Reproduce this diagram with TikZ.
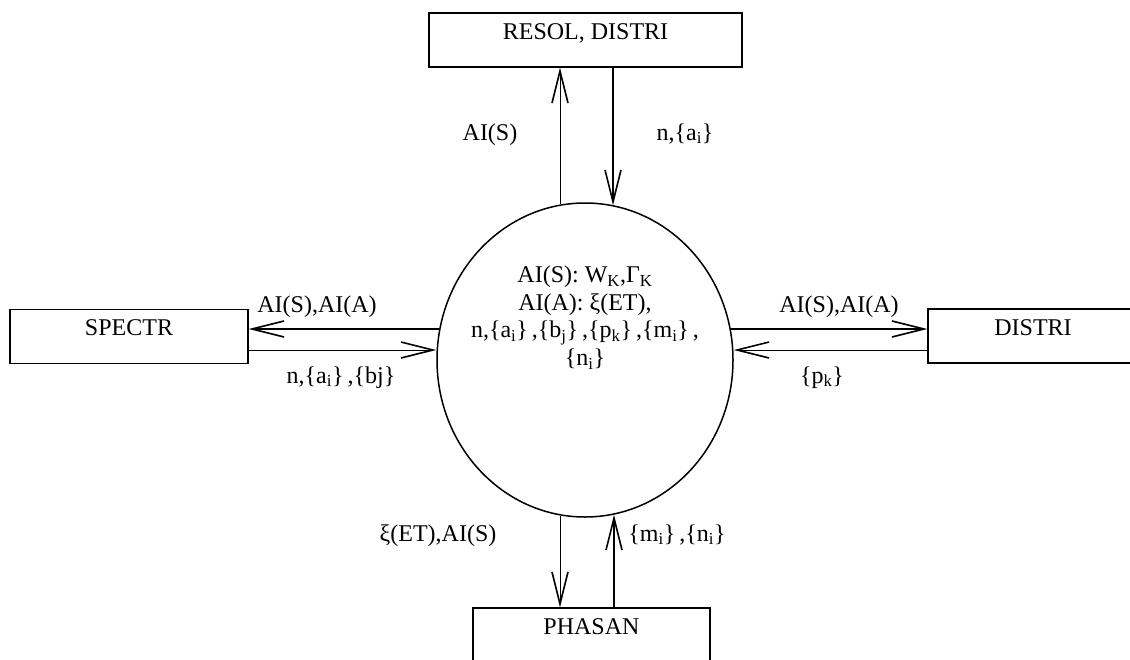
\documentclass[tikz,border=0pt]{standalone}
\usepackage{fontspec}
\setmainfont{Liberation Serif}
\usetikzlibrary{arrows.meta,shapes.geometric}
\newcommand{\sbs}[1]{\textsubscript{#1}}
\begin{document}
\begin{tikzpicture}[x=1pt,y=-1pt,
  txt/.style={font=\fontsize{24}{27.5}\selectfont},
  box/.style={txt,draw,line width=1.4pt,inner sep=0pt,text height=26pt,text depth=28pt},
  lbl/.style={txt,inner sep=0pt,anchor=base},
  tip/.style={-{Straight Barb[length=32pt,width=16pt,line width=1.6pt]}},
  thinarrow/.style={tip,line width=1pt},
  thickarrow/.style={tip,line width=2pt}]
\clip (0,0) rectangle (1130,659);
\node[box,minimum width=313pt] (r) at (585.5,40) {RESOL, DISTRI};
\node[box,minimum width=238pt] (s) at (129,336.5) {SPECTR};
\node[box,minimum width=210pt] (d) at (1033,336) {DISTRI};
\node[box,minimum width=237pt] (p) at (591.5,635) {PHASAN};
\node[draw,ellipse,line width=1.5pt,minimum width=296pt,minimum height=314pt,inner sep=0pt] (c) at (585,360) {};
\node[lbl,align=center,anchor=north] (ct) at (585,266) {AI(S): W\sbs{K},Γ\sbs{K}\\AI(A): ξ(ET),\\n,\{a\sbs{i}\}\thinspace,\{b\sbs{j}\}\thinspace,\{p\sbs{k}\}\thinspace,\{m\sbs{i}\}\thinspace,\\\{n\sbs{i}\}};
% top
\draw[thinarrow] ([xshift=-25pt,yshift=-2pt]c.north) -- ([xshift=-25pt]c.north |- r.south);
\draw[thickarrow] ([xshift=28pt]c.north |- r.south) -- ([xshift=28pt,yshift=-3pt]c.north);
% left
\draw[thickarrow] ([yshift=31pt,xshift=3pt]c.west) -- ([yshift=31pt]c.west -| s.east);
\draw[thinarrow] ([yshift=10pt]c.west -| s.east) -- ([yshift=10pt]c.west);
% right
\draw[thickarrow] ([yshift=31pt,xshift=-3pt]c.east) -- ([yshift=31pt]c.east -| d.west);
\draw[thinarrow] ([yshift=10pt]c.east -| d.west) -- ([yshift=10pt]c.east);
% bottom
\draw[thinarrow] ([xshift=-25pt,yshift=2pt]c.south) -- ([xshift=-25pt]c.south |- p.north);
\draw[thickarrow] ([xshift=29pt]c.south |- p.north) -- ([xshift=29pt,yshift=3pt]c.south);
% labels
\node[lbl] (l1) at (490,140) {AI(S)};
\node[lbl] (l2) at (685,140) {n,\{a\sbs{i}\}};
\node[lbl] (l3) at (317,312) {AI(S),AI(A)};
\node[lbl] (l4) at (341,383) {n,\{a\sbs{i}\}\thinspace,\{bj\}};
\node[lbl] (l5) at (839,312) {AI(S),AI(A)};
\node[lbl] (l6) at (822,383) {\{p\sbs{k}\}};
\node[lbl] (l7) at (438,541) {ξ(ET),AI(S)};
\node[lbl] (l8) at (677,541) {\{m\sbs{i}\}\thinspace,\{n\sbs{i}\}};
\end{tikzpicture}
\end{document}
